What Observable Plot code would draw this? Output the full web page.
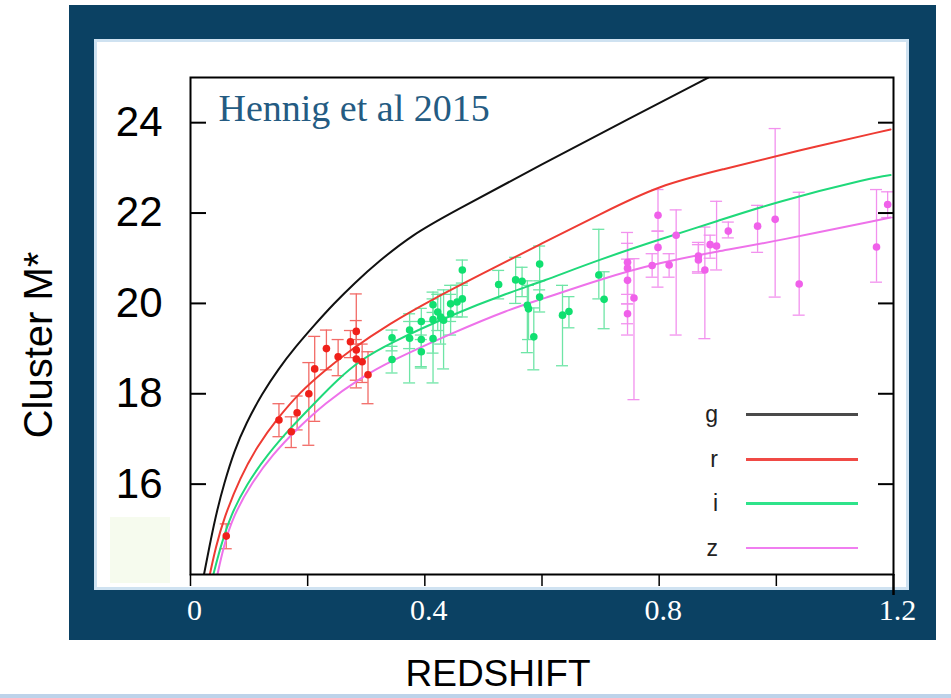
<!DOCTYPE html>
<html><head><meta charset="utf-8">
<script src="https://cdn.jsdelivr.net/npm/d3@7"></script>
<script src="https://cdn.jsdelivr.net/npm/@observablehq/plot@0.6"></script>
<style>
html,body{margin:0;padding:0;background:#fff;}
#page{position:relative;width:951px;height:698px;overflow:hidden;font-family:"Liberation Sans",Arial,sans-serif;}
.abs{position:absolute;}
</style></head><body><div id="page">
<div class="abs" style="left:69px;top:5px;width:867px;height:635px;background:#0b4163"></div>
<div class="abs" style="left:94px;top:39px;width:809px;height:545px;background:#fff;border:3px solid #cfe2f1"></div>
<div class="abs" style="left:110px;top:517px;width:60px;height:66px;background:#f6fbee"></div>
<div class="abs" style="left:0;top:694px;width:951px;height:4px;background:#bdd3ea"></div>
<div id="chart" class="abs" style="left:0;top:0"></div>
<div id="legend"></div>
<div class="abs" style="left:38px;top:345px;transform:translate(-50%,-50%) rotate(-90deg);white-space:nowrap;font-size:40px;line-height:1;color:#000">Cluster M*</div>
<div class="abs" style="left:498px;top:655px;transform:translateX(-50%);white-space:nowrap;font-size:37px;line-height:1;color:#000">REDSHIFT</div>
</div>
<script>
// ---- data ----
const xTicks = [0, 0.2, 0.4, 0.6, 0.8, 1.0];
const xTickLabels = [0, 0.4, 0.8, 1.2];
const yTicks = [16, 18, 20, 22, 24];
const title = "Hennig et al 2015";
const bands = ["g", "r", "i", "z"];

// model curves (redshift, M*)
const curveGx = [0.023,0.035,0.045,0.057,0.075,0.095,0.122,0.15,0.18,0.21,0.245,0.28,0.32,0.38,0.44,0.6,0.75,0.884];
const curveGy = [14.0,14.8,15.4,16.0,16.75,17.35,18.0,18.55,19.05,19.5,20.0,20.45,20.92,21.53,21.97,23.08,24.1,25.0];
const curveRx = [0.033,0.043,0.057,0.085,0.114,0.148,0.188,0.228,0.273,0.341,0.41,0.5,0.6,0.7,0.8,0.91,1.03,1.195];
const curveRy = [14.0,14.6,15.25,16.15,16.84,17.45,18.05,18.5,18.97,19.56,20.07,20.67,21.33,21.98,22.62,22.97,23.36,23.85];
const curveIx = [0.039,0.051,0.068,0.096,0.131,0.171,0.216,0.25,0.29,0.34,0.444,0.546,0.597,0.70,0.802,0.899,1.0,1.166,1.195];
const curveIy = [14.0,14.6,15.3,16.0,16.65,17.25,17.85,18.3,18.75,19.12,19.74,20.25,20.47,20.98,21.42,21.82,22.25,22.79,22.84];
const curveZx = [0.046,0.056,0.073,0.105,0.14,0.18,0.23,0.29,0.341,0.444,0.546,0.597,0.70,0.802,0.9,1.0,1.195];
const curveZy = [14.0,14.6,15.3,16.04,16.65,17.2,17.8,18.35,18.72,19.33,19.88,20.08,20.54,20.91,21.15,21.38,21.9];

// measured clusters: redshift, M*, lower, upper
const redZ  = [0.061,0.151,0.172,0.182,0.202,0.212,0.232,0.252,0.273,0.283,0.283,0.283,0.293,0.303];
const redM  = [14.85,17.42,17.16,17.58,18.0,18.55,19.0,18.82,19.15,19.38,18.97,18.77,18.71,18.42];
const redLo = [14.57,17.05,16.81,17.2,16.86,17.39,18.53,18.4,18.8,19.1,18.13,18.3,18.25,17.78];
const redHi = [15.12,17.78,17.49,17.95,18.69,19.27,19.41,19.2,19.4,19.62,20.21,19.2,19.1,18.93];

const grnZ  = [0.344,0.344,0.374,0.374,0.394,0.394,0.394,0.414,0.414,0.414,0.422,0.427,0.432,0.444,0.444,0.455,0.464,0.464,0.526,0.555,0.566,0.575,0.577,0.586,0.596,0.596,0.635,0.646,0.697,0.706];
const grnM  = [19.24,18.76,19.41,19.23,19.6,19.2,18.93,19.97,19.64,19.22,19.81,19.70,19.63,19.99,19.77,20.03,20.10,20.74,20.42,20.52,20.49,19.96,19.88,19.26,20.87,20.14,19.74,19.82,20.63,20.09];
const grnLo = [18.95,18.46,19.0,18.24,19.2,18.57,18.6,19.6,18.9,18.24,19.4,19.1,18.55,19.6,19.3,19.7,19.7,20.4,20.1,20.0,20.15,18.91,19.2,18.53,20.3,19.81,18.62,19.46,20.1,19.44];
const grnHi = [19.41,19.05,19.77,19.6,19.89,19.6,19.3,20.25,20.1,19.8,20.2,20.2,20.3,20.4,20.2,20.4,20.45,20.96,20.73,21.02,20.8,20.5,20.4,19.9,21.27,20.5,20.4,20.15,21.64,20.7];

const magZ  = [0.746,0.746,0.746,0.746,0.757,0.788,0.798,0.798,0.817,0.829,0.867,0.867,0.878,0.887,0.898,0.918,0.968,0.998,1.039,1.171,1.19];
const magM  = [20.91,20.78,20.51,19.77,20.12,20.84,21.95,21.24,20.85,21.51,21.05,20.96,20.74,21.30,21.27,21.60,21.71,21.86,20.43,21.25,22.19];
const magLo = [19.99,19.3,20.2,19.55,17.87,20.58,21.6,20.36,20.58,19.3,20.67,20.7,19.22,21.0,20.74,21.45,21.13,20.14,19.74,20.47,21.9];
const magHi = [21.57,21.33,20.98,19.99,20.99,21.1,22.52,21.6,21.1,22.07,21.3,21.35,21.69,21.51,22.26,21.8,22.17,23.87,22.46,22.52,22.47];

// ---- styles ----
const lineColor = {g: "#111111", r: "#ee3b33", i: "#1fd97a", z: "#ee72ea"};
const legendColor = {g: "#4a4a4a", r: "#f04a45", i: "#2ee38a", z: "#f07ef0"};
const dotColor = {r: "#f0201a", i: "#10e070", z: "#f060ea"};
const barColor = {r: "#f26a66", i: "#6ee5a6", z: "#f291ee"};

const curves = [
  ...curveGx.map((x, k) => ({band: "g", x, y: curveGy[k]})),
  ...curveRx.map((x, k) => ({band: "r", x, y: curveRy[k]})),
  ...curveIx.map((x, k) => ({band: "i", x, y: curveIy[k]})),
  ...curveZx.map((x, k) => ({band: "z", x, y: curveZy[k]}))
];
const pts = (band, Z, M, L, H) => Z.map((z, k) => ({band, z, m: M[k], lo: L[k], hi: H[k]}));
const points = [
  ...pts("r", redZ, redM, redLo, redHi),
  ...pts("i", grnZ, grnM, grnLo, grnHi),
  ...pts("z", magZ, magM, magLo, magHi)
];

const W = 951, H = 698;
const mL = 190, mR = 951 - 893, mT = 77, mB = 698 - 574;
const pw = W - mL - mR, ph = H - mT - mB;

const marks = [];
// error bars & caps
for (const b of ["r", "i", "z"]) {
  const d = points.filter(p => p.band === b);
  marks.push(Plot.ruleX(d, {x: "z", y1: "lo", y2: "hi", stroke: barColor[b], strokeWidth: 1.3, clip: true}));
  marks.push(Plot.ruleY(d, {x1: "z", x2: "z", y: "lo", insetLeft: -6, insetRight: -6, stroke: barColor[b], strokeWidth: 1.3, clip: true}));
  marks.push(Plot.ruleY(d, {x1: "z", x2: "z", y: "hi", insetLeft: -6, insetRight: -6, stroke: barColor[b], strokeWidth: 1.3, clip: true}));
}
// model lines
for (const b of bands) {
  marks.push(Plot.line(curves.filter(c => c.band === b), {x: "x", y: "y", stroke: lineColor[b], strokeWidth: 2, curve: "basis", clip: true}));
}
// dots
for (const b of ["r", "i", "z"]) {
  marks.push(Plot.dot(points.filter(p => p.band === b), {x: "z", y: "m", r: 3.8, fill: dotColor[b], stroke: "none"}));
}
// ticks (inward on y, outward on x)
marks.push(Plot.ruleY(yTicks, {y: d => d, insetRight: pw - 16, stroke: "#000", strokeWidth: 2}));
marks.push(Plot.ruleY(yTicks, {y: d => d, insetLeft: pw - 15, stroke: "#000", strokeWidth: 2}));
marks.push(Plot.ruleX(xTicks, {x: d => d, insetTop: ph, insetBottom: -12, stroke: "#000", strokeWidth: 1.5}));
marks.push(Plot.ruleX([1.2], {x: d => d, insetTop: ph, insetBottom: -21, stroke: "#000", strokeWidth: 2.5}));
marks.push(Plot.frame({stroke: "#000", strokeWidth: 2}));
// axis labels
marks.push(Plot.axisY(yTicks, {anchor: "left", tickSize: 0, tickPadding: 28, fontSize: 42, fill: "#000", fontFamily: "Liberation Sans, Arial, sans-serif", label: null}));
marks.push(Plot.axisX(xTickLabels, {anchor: "bottom", tickSize: 0, tickPadding: 24, fontSize: 30, fill: "#fff", fontFamily: "Liberation Serif, Times New Roman, serif", tickFormat: d => d === 0 ? "0" : d.toFixed(1), dx: 4, label: null}));
marks.push(Plot.text([title], {text: d => d, frameAnchor: "top-left", dx: 28, dy: 43, lineAnchor: "bottom", textAnchor: "start", fontSize: 38, fontFamily: "Liberation Serif, Times New Roman, serif", fill: "#245b82"}));

const chart = Plot.plot({
  width: W, height: H,
  marginLeft: mL, marginRight: mR, marginTop: mT, marginBottom: mB,
  x: {domain: [0, 1.2]},
  y: {domain: [14, 25]},
  style: {background: "transparent", overflow: "visible"},
  marks
});
document.getElementById("chart").appendChild(chart);

// legend
const legend = document.getElementById("legend");
const legendY = [414.7, 459.3, 503.7, 548];
bands.forEach((b, k) => {
  const lab = document.createElement("div");
  lab.className = "abs";
  lab.style.cssText = `left:680px;width:38px;text-align:right;top:${legendY[k] + 8 - 19.5}px;font-size:23px;line-height:1;color:#222`;
  lab.textContent = b;
  legend.appendChild(lab);
  const ln = document.createElement("div");
  ln.className = "abs";
  ln.style.cssText = `left:746px;width:112px;top:${legendY[k] - 1.25}px;height:2.5px;background:${legendColor[b]}`;
  legend.appendChild(ln);
});
</script>
</body></html>
